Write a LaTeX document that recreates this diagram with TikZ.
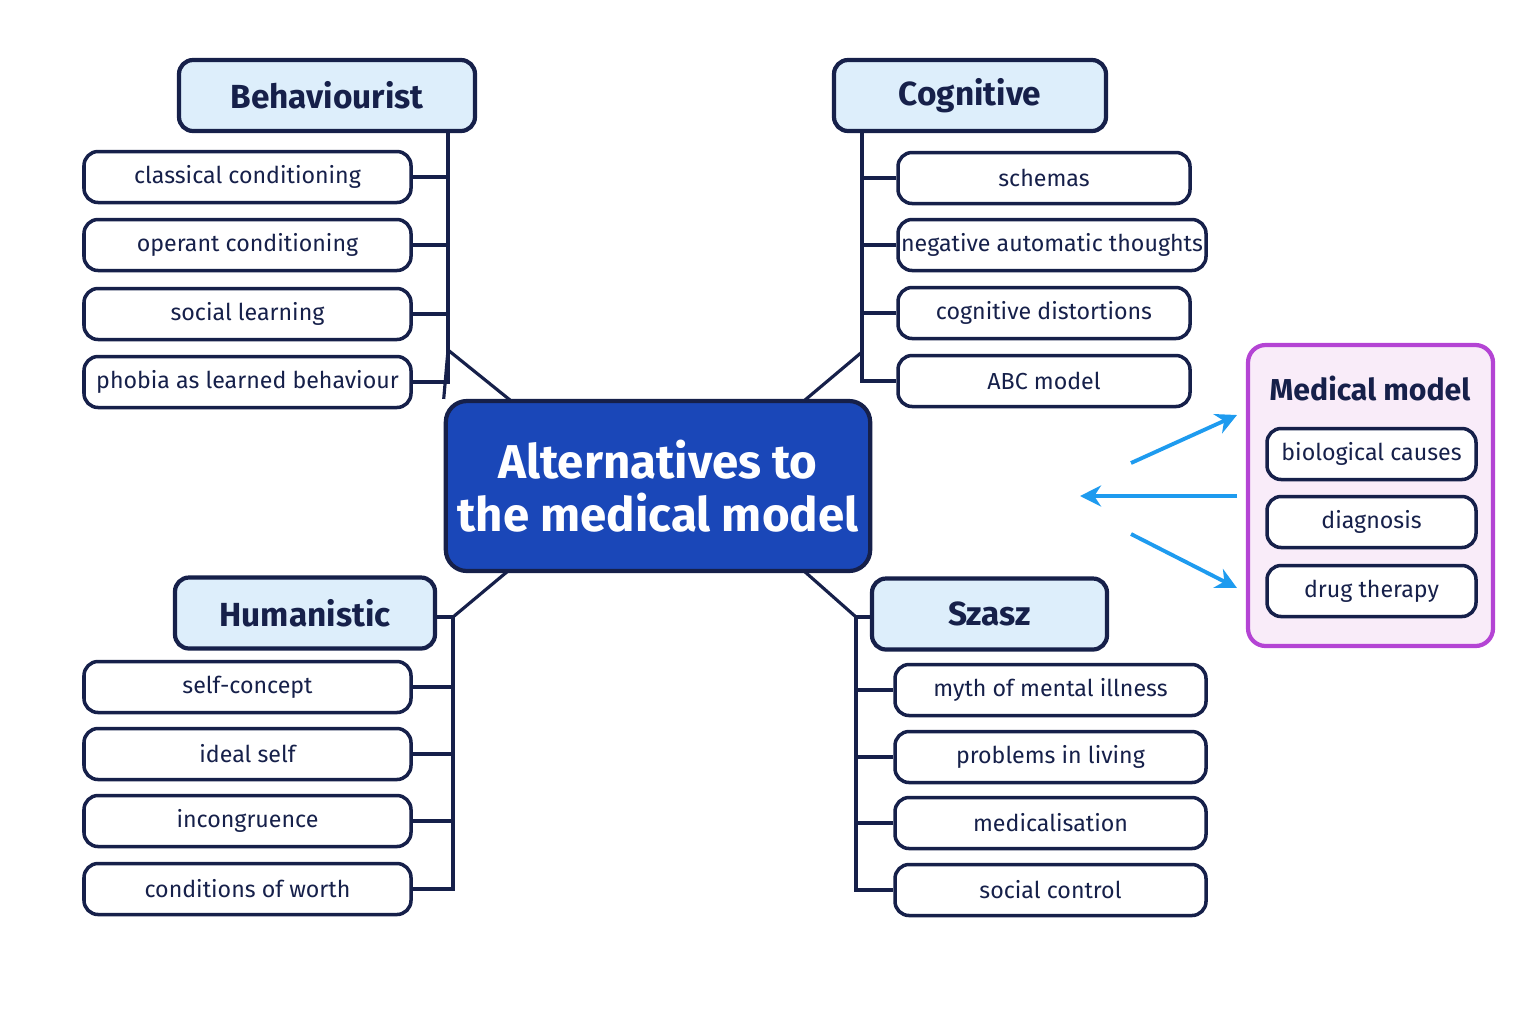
\documentclass[tikz,border=0pt]{standalone}
\usepackage{fontspec}
\setmainfont{Fira Sans}
\usetikzlibrary{arrows.meta}
\definecolor{navy}{HTML}{16204A}
\definecolor{headfill}{HTML}{DDEEFB}
\definecolor{corefill}{HTML}{1A47B8}
\definecolor{medfill}{HTML}{F9ECF9}
\definecolor{medline}{HTML}{B444D4}
\definecolor{arrowblue}{HTML}{1E9BEF}
\tikzset{
  head/.style={draw=navy, line width=1.2pt, fill=headfill, rounded corners=4pt, font=\fontsize{9.5}{11}\selectfont\bfseries, text=navy, minimum height=0.71cm, inner sep=0pt},
  item/.style={draw=navy, line width=1pt, fill=white, rounded corners=4pt, font=\fontsize{6.6}{8}\selectfont, text=navy, minimum height=0.51cm, inner sep=0pt},
  link/.style={draw=navy, line width=0.9pt},
  flow/.style={draw=arrowblue, line width=1.1pt, -{Stealth[length=6pt,width=6pt]}}
}
\begin{document}
\begin{tikzpicture}
\useasboundingbox (0,0) rectangle (15.36,-10.24);
% centre
\node[draw=navy, line width=1.2pt, fill=corefill, rounded corners=6pt, minimum width=3.48cm, minimum height=1.70cm, text=white, align=center, font=\fontsize{13.5}{15}\selectfont\bfseries] (core) at (6.58,-4.86) {Alternatives to\\the medical model};
% behaviourist
\node[head, minimum width=2.96cm] (beh) at (3.27,-0.955) {Behaviourist};
\node[item, minimum width=3.27cm] (b1) at (2.475,-1.77) {classical conditioning};
\node[item, minimum width=3.27cm] (b2) at (2.475,-2.45) {operant conditioning};
\node[item, minimum width=3.27cm] (b3) at (2.475,-3.14) {social learning};
\node[item, minimum width=3.27cm] (b4) at (2.475,-3.82) {phobia as learned behaviour};
\coordinate (bt) at (4.48,-1.31);
\coordinate (bj) at (4.48,-3.50);
\draw[link] (bt) -- (4.48,-3.82) -- (b4.east);
\foreach \n in {b1,b2,b3} \draw[link] (\n.east) -- (4.48,0 |- \n.east);
\draw[link] (bj) -- (core.north west) ++(0.26,0);
\draw[link] (bj) -- (5.10,-4.00);
% cognitive
\node[head, minimum width=2.72cm] (cog) at (9.70,-0.955) {Cognitive};
\node[item, minimum width=2.92cm] (c1) at (10.44,-1.78) {schemas};
\node[item, minimum width=3.08cm] (c2) at (10.52,-2.45) {negative automatic thoughts};
\node[item, minimum width=2.92cm] (c3) at (10.44,-3.13) {cognitive distortions};
\node[item, minimum width=2.92cm] (c4) at (10.44,-3.81) {ABC model};
\coordinate (ct) at (8.62,-1.31);
\coordinate (cj) at (8.62,-3.52);
\draw[link] (ct) -- (8.62,-3.81) -- (c4.west);
\foreach \n in {c1,c2,c3} \draw[link] (\n.west) -- (8.62,0 |- \n.west);
\draw[link] (cj) -- (8.05,-4.00);
% humanistic
\node[head, minimum width=2.60cm] (hum) at (3.05,-6.13) {Humanistic};
\node[item, minimum width=3.27cm] (h1) at (2.475,-6.87) {self-concept};
\node[item, minimum width=3.27cm] (h2) at (2.475,-7.54) {ideal self};
\node[item, minimum width=3.27cm] (h3) at (2.475,-8.21) {incongruence};
\node[item, minimum width=3.27cm] (h4) at (2.475,-8.89) {conditions of worth};
\coordinate (hj) at (4.53,-6.17);
\draw[link] (hum.east |- hj) -- (hj) -- (4.53,-8.89) -- (h4.east);
\foreach \n in {h1,h2,h3} \draw[link] (\n.east) -- (4.53,0 |- \n.east);
\draw[link] (hj) -- (5.08,-5.71);
% szasz
\node[head, minimum width=2.35cm] (sza) at (9.895,-6.14) {Szasz};
\node[item, minimum width=3.11cm] (s1) at (10.505,-6.90) {myth of mental illness};
\node[item, minimum width=3.11cm] (s2) at (10.505,-7.57) {problems in living};
\node[item, minimum width=3.11cm] (s3) at (10.505,-8.23) {medicalisation};
\node[item, minimum width=3.11cm] (s4) at (10.505,-8.90) {social control};
\coordinate (sj) at (8.56,-6.17);
\draw[link] (sza.west |- sj) -- (sj) -- (8.56,-8.90) -- (s4.west);
\foreach \n in {s1,s2,s3} \draw[link] (\n.west) -- (8.56,0 |- \n.west);
\draw[link] (sj) -- (8.04,-5.71);
% medical model
\node[draw=medline, line width=1.2pt, fill=medfill, rounded corners=5pt, minimum width=2.45cm, minimum height=3.01cm] (med) at (13.705,-4.955) {};
\node[font=\fontsize{8.6}{10}\selectfont\bfseries, text=navy] (medt) at (13.70,-3.88) {Medical model};
\node[item, minimum width=2.09cm] (m1) at (13.715,-4.54) {biological causes};
\node[item, minimum width=2.09cm] (m2) at (13.715,-5.22) {diagnosis};
\node[item, minimum width=2.09cm] (m3) at (13.715,-5.91) {drug therapy};
\coordinate (a1) at (11.31,-4.63);
\coordinate (a2) at (10.80,-4.96);
\coordinate (a3) at (11.31,-5.34);
\draw[flow] (a1) -- (12.37,-4.15);
\draw[flow] (12.37,-4.96) -- (a2);
\draw[flow] (a3) -- (12.37,-5.88);
\end{tikzpicture}
\end{document}
